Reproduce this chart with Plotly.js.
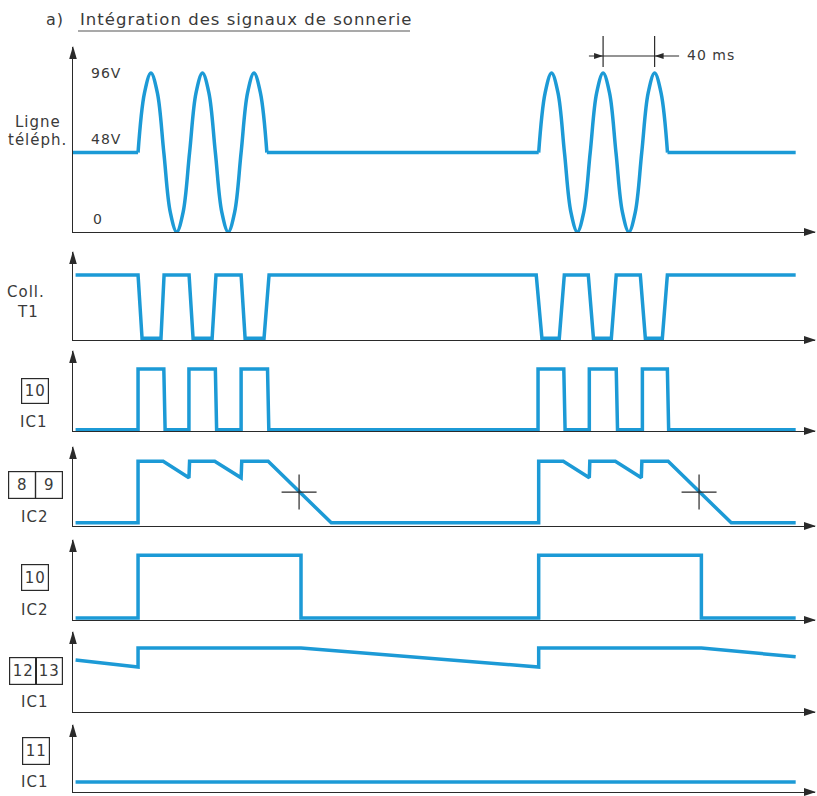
<!DOCTYPE html>
<html><head><meta charset="utf-8">
<script src="https://cdn.plot.ly/plotly-3.0.1.min.js"></script>
<style>html,body{margin:0;padding:0;background:#fff} text.annotation-text{letter-spacing:1px}</style>
</head><body><div id="chart" style="width:817px;height:796px"></div>
<script>
// ===== DATA (time in ms) =====
// Panel 1: Ligne téléph. (volts)
const ligneRestT = [0, 50.5, null, 150.5, 361.5, null, 461.5, 561];
const ligneRestV = [48, 48, null, 48, 48, null, 48, 48];
const burst1T = [50.5, 55.5, 60.5, 65.5, 70.5, 75.5, 80.5, 85.5, 90.5, 95.5, 100.5,
                 105.5, 110.5, 115.5, 120.5, 125.5, 130.5, 135.5, 140.5, 145.5, 150.5];
const burst2T = [361.5, 366.5, 371.5, 376.5, 381.5, 386.5, 391.5, 396.5, 401.5, 406.5, 411.5,
                 416.5, 421.5, 426.5, 431.5, 436.5, 441.5, 446.5, 451.5, 456.5, 461.5];
const burstV  = [48, 84, 96, 84, 48, 12, 0, 12, 48, 84, 96,
                 84, 48, 12, 0, 12, 48, 84, 96, 84, 48];
const ligneTickV = [96, 48, 0];
const ligneTickText = ['96V', '48V', '0'];
const periodT = [411.5, 451.5];
const periodText = '40 ms';

// Panel 2: Coll. T1 (relative level)
const collT = [2, 50.5, 53.6, 68.3, 70.7, 90.1, 93.2, 108, 111, 130.5, 133.6, 148.3, 152.2,
               359.6, 364, 377.5, 381.4, 400, 404, 417.9, 421.7, 440.4, 444.3, 457.5, 461.4, 561];
const collV = [0.74, 0.74, 0.02, 0.02, 0.74, 0.74, 0.02, 0.02, 0.74, 0.74, 0.02, 0.02, 0.74,
               0.74, 0.02, 0.02, 0.74, 0.74, 0.02, 0.02, 0.74, 0.74, 0.02, 0.02, 0.74, 0.74];

// Panel 3: IC1 pin 10
const ic1p10T = [2, 50.5, 50.5, 70.5, 71.5, 90, 90, 110.5, 111.5, 130.5, 130.5, 151, 152,
                 361, 361, 381, 382, 400.8, 400.8, 421.7, 422.7, 442, 442, 461.4, 462.4, 561];
const ic1p10V = [0.015, 0.015, 0.775, 0.775, 0.015, 0.015, 0.775, 0.775, 0.015, 0.015, 0.775, 0.775, 0.015,
                 0.015, 0.775, 0.775, 0.015, 0.015, 0.775, 0.775, 0.015, 0.015, 0.775, 0.775, 0.015, 0.015];

// Panel 4: IC2 pins 8/9
const ic2p89T = [2, 50.5, 50.5, 70, 90, 90.5, 110, 130.5, 131, 151.5, 200.5,
                 361.5, 361.5, 380.6, 400.8, 401.2, 421, 441.2, 441.6, 462, 511, 561];
const ic2p89V = [0.04, 0.04, 0.82, 0.82, 0.61, 0.82, 0.82, 0.61, 0.82, 0.82, 0.04,
                 0.04, 0.82, 0.82, 0.61, 0.82, 0.82, 0.61, 0.82, 0.82, 0.04, 0.04];
const seuilT = [175.5, 486];
const seuilV = [0.43, 0.43];

// Panel 5: IC2 pin 10
const ic2p10T = [2, 50.5, 50.5, 177, 177, 361.5, 361.5, 487.8, 487.8, 561];
const ic2p10V = [0.025, 0.025, 0.81, 0.81, 0.025, 0.025, 0.81, 0.81, 0.025, 0.025];

// Panel 6: IC1 pins 12/13
const ic1p1213T = [2, 50.5, 50.5, 177, 361.5, 361.5, 487.8, 561];
const ic1p1213V = [0.65, 0.5625, 0.80, 0.80, 0.5625, 0.80, 0.80, 0.69];

// Panel 7: IC1 pin 11
const ic1p11T = [2, 561];
const ic1p11V = [0.148, 0.148];

// ===== LAYOUT HELPERS =====
const W = 817, H = 796, L = 73, R = 815, TOP = 47, BOT = 792;
const px2x = p => (p - L) / (R - L);
const py2y = p => 1 - (p - TOP) / (BOT - TOP);
const BLUE = '#1c9ad6', INK = '#2a2a2a', TXT = '#3a3a3a';
const FONT = 'DejaVu Sans, sans-serif';
const XMAX = 576;
const panels = [[47, 232], [252, 340], [351, 431], [447, 526], [540, 620], [632, 712], [725, 792]];
const yTop = [111.7, 1, 1, 1, 1, 1, 1];

const sfx = i => (i === 0 ? '' : String(i + 1));
const layout = {
  width: W, height: H, paper_bgcolor: '#fff', plot_bgcolor: 'rgba(0,0,0,0)',
  margin: {l: L, r: W - R, t: TOP, b: H - BOT, pad: 0},
  showlegend: false, annotations: [], shapes: [], font: {family: FONT, color: TXT}
};
panels.forEach((p, i) => {
  const s = sfx(i);
  layout['xaxis' + s] = {domain: [0, 1], range: [0, XMAX], anchor: 'y' + s, showline: true, linecolor: INK,
    linewidth: 1.3, showgrid: false, zeroline: false, ticks: '', showticklabels: false, fixedrange: true};
  layout['yaxis' + s] = {domain: [py2y(p[1]), py2y(p[0])], range: [0, yTop[i]], anchor: 'x' + s, showline: true,
    linecolor: INK, linewidth: 1.3, showgrid: false, zeroline: false, ticks: '', showticklabels: false, fixedrange: true};
  layout.shapes.push({type: 'path', xref: 'paper', yref: 'paper', xsizemode: 'pixel', ysizemode: 'pixel',
    xanchor: 1, yanchor: py2y(p[1]), path: 'M1,0 L-11,4 L-11,-4 Z', fillcolor: INK, line: {width: 0}});
  layout.shapes.push({type: 'path', xref: 'paper', yref: 'paper', xsizemode: 'pixel', ysizemode: 'pixel',
    xanchor: 0, yanchor: py2y(p[0]), path: 'M0,1 L-3.8,-12 L3.8,-12 Z', fillcolor: INK, line: {width: 0}});
});

function tr(i, t, v, shape) {
  const s = sfx(i);
  return {type: 'scatter', mode: 'lines', x: t, y: v, xaxis: 'x' + s, yaxis: 'y' + s, cliponaxis: false,
    connectgaps: false, hoverinfo: 'skip', line: {color: BLUE, width: 3.5, shape: shape || 'linear', smoothing: 1}};
}
const data = [
  tr(0, ligneRestT, ligneRestV),
  tr(0, burst1T, burstV, 'spline'),
  tr(0, burst2T, burstV, 'spline'),
  tr(1, collT, collV),
  tr(2, ic1p10T, ic1p10V),
  tr(3, ic2p89T, ic2p89V),
  tr(4, ic2p10T, ic2p10V),
  tr(5, ic1p1213T, ic1p1213V),
  tr(6, ic1p11T, ic1p11V),
  {type: 'scatter', mode: 'markers', x: seuilT, y: seuilV, xaxis: 'x4', yaxis: 'y4', cliponaxis: false,
   hoverinfo: 'skip', marker: {symbol: 'cross-thin-open', size: 25, line: {color: INK, width: 1.2}, color: INK}}
];

function txt(text, px, py, anchor, size, extra) {
  return Object.assign({text: text, xref: 'paper', yref: 'paper', x: px2x(px), y: py2y(py), xanchor: anchor || 'center',
    yanchor: 'middle', showarrow: false, font: {family: FONT, size: size || 15, color: TXT}}, extra || {});
}
function box(text, cx, cy, w, h) {
  return txt(text, cx, cy, 'center', 15, {width: w, height: h, bordercolor: INK, borderwidth: 1.2, borderpad: 0});
}
const A = layout.annotations;
A.push(txt('a)', 55, 20, 'center', 16));
A.push(txt('Intégration des signaux de sonnerie', 78, 20, 'left', 16.5));
A.push(txt('Ligne', 38, 122)); A.push(txt('téléph.', 37, 140));
A.push({text: ligneTickText[0], xref: 'paper', yref: 'y', x: px2x(89), y: ligneTickV[0], xanchor: 'left', yanchor: 'middle',
  showarrow: false, font: {family: FONT, size: 14, color: TXT}});
A.push({text: ligneTickText[1], xref: 'paper', yref: 'y', x: px2x(89), y: ligneTickV[1], xanchor: 'left', yanchor: 'bottom',
  yshift: 4, showarrow: false, font: {family: FONT, size: 14, color: TXT}});
A.push({text: ligneTickText[2], xref: 'paper', yref: 'y', x: px2x(91), y: ligneTickV[2], xanchor: 'left', yanchor: 'bottom',
  yshift: 3, showarrow: false, font: {family: FONT, size: 14, color: TXT}});
A.push(txt(periodText, 685, 55, 'left', 14));
A.push(txt('Coll.', 26, 292)); A.push(txt('T1', 28, 312));
A.push(box('10', 35, 391, 26, 24)); A.push(txt('IC1', 33, 422));
A.push(box('8', 22.5, 485, 26, 26)); A.push(box('9', 49, 485, 26, 26)); A.push(txt('IC2', 34, 517));
A.push(box('10', 35, 577, 26, 25)); A.push(txt('IC2', 34, 610));
A.push(box('12', 23, 671, 26, 26)); A.push(box('13', 49, 671, 26, 26)); A.push(txt('IC1', 34, 702));
A.push(box('11', 36, 751, 26, 26)); A.push(txt('IC1', 34, 782));

layout.shapes.push({type: 'line', xref: 'paper', yref: 'paper', x0: px2x(78), x1: px2x(410), y0: py2y(31), y1: py2y(31),
  line: {color: '#555', width: 1.2}});
periodT.forEach(t => layout.shapes.push({type: 'line', xref: 'x', yref: 'paper', x0: t, x1: t, y0: py2y(36), y1: py2y(67),
  line: {color: INK, width: 1.2}}));
layout.shapes.push({type: 'line', xref: 'x', yref: 'paper', x0: periodT[0] - 11, x1: periodT[1] + 19,
  y0: py2y(56), y1: py2y(56), line: {color: INK, width: 1.2}});
layout.shapes.push({type: 'path', xref: 'x', yref: 'paper', xsizemode: 'pixel', ysizemode: 'pixel',
  xanchor: periodT[0], yanchor: py2y(56), path: 'M0,0 L-9,3 L-9,-3 Z', fillcolor: INK, line: {width: 0}});
layout.shapes.push({type: 'path', xref: 'x', yref: 'paper', xsizemode: 'pixel', ysizemode: 'pixel',
  xanchor: periodT[1], yanchor: py2y(56), path: 'M0,0 L9,3 L9,-3 Z', fillcolor: INK, line: {width: 0}});

Plotly.newPlot('chart', data, layout, {staticPlot: true, displayModeBar: false});
</script></body></html>
